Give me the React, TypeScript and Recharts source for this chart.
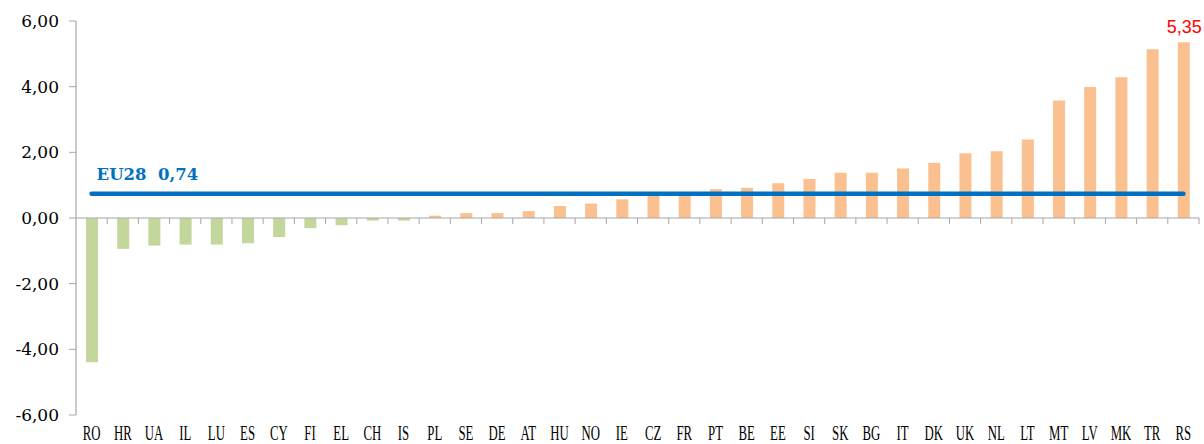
import React from 'react';
import { ComposedChart, Bar, Line, XAxis, YAxis, Cell, ReferenceLine, LabelList } from 'recharts';

const countries = ['RO','HR','UA','IL','LU','ES','CY','FI','EL','CH','IS','PL','SE','DE','AT','HU','NO','IE','CZ','FR','PT','BE','EE','SI','SK','BG','IT','DK','UK','NL','LT','MT','LV','MK','TR','RS'];
const values = [-4.39,-0.94,-0.84,-0.81,-0.81,-0.77,-0.58,-0.31,-0.22,-0.08,-0.08,0.07,0.15,0.15,0.21,0.37,0.44,0.57,0.72,0.75,0.88,0.92,1.06,1.19,1.38,1.38,1.51,1.68,1.97,2.03,2.39,3.58,3.99,4.29,5.14,5.35];
const EU28 = 0.74;
const yTicks = [-6, -4, -2, 0, 2, 4, 6];

const data = countries.map((c, i) => ({ name: c, value: values[i], eu: EU28 }));

const fmt = (v: number) => v.toFixed(2).replace('.', ',');

const GRAY = '#A6A6A6';
const GREEN = '#C3D69B';
const ORANGE = '#FAC090';
const BLUE = '#0070C0';

const XTick = (props: any) => {
  const { x, y, payload } = props;
  return (
    <g transform={`translate(${x},${y + 25})`}>
      <text
        transform="scale(0.64,1)"
        textAnchor="middle"
        fontFamily="'Liberation Serif', serif"
        fontSize={20}
        fill="#000"
      >
        {payload.value}
      </text>
    </g>
  );
};

const ZeroLine = (props: any) => {
  const { x1, y1, x2 } = props;
  const n = countries.length;
  const step = (x2 - x1) / n;
  const ticks = [];
  for (let i = 1; i <= n; i++) {
    const tx = x1 + step * i;
    ticks.push(<line key={i} x1={tx} x2={tx} y1={y1} y2={y1 + 6} stroke={GRAY} strokeWidth={1} />);
  }
  return (
    <g>
      <line x1={x1} x2={x2} y1={y1} y2={y1} stroke={GRAY} strokeWidth={1.2} />
      {ticks}
    </g>
  );
};

const LastLabel = (props: any) => {
  const { x, y, width, index, value } = props;
  if (index !== countries.length - 1) return null;
  return (
    <text x={x + width / 2 + 18} y={y - 9} textAnchor="end" fill="#FF0000" fontFamily="'Liberation Sans', sans-serif" fontSize={18}>
      {fmt(value)}
    </text>
  );
};

const EuLabel = (props: any) => {
  const { x, y, index } = props;
  if (index !== 0) return null;
  return (
    <text x={x + 5} y={y - 14} fill={BLUE} fontFamily="'DejaVu Serif', serif" fontWeight="bold" fontSize={16.5} style={{ whiteSpace: 'pre' }}>
      {`EU28  ${fmt(EU28)}`}
    </text>
  );
};

export default function App() {
  return (
    <div style={{ width: 1196, height: 436, padding: '8px 0 0 8px' }}>
      <style>{`body{margin:0}`}</style>
      <ComposedChart
        width={1196}
        height={436}
        data={data}
        margin={{ top: 13, right: 5, bottom: 0, left: 0 }}
        barCategoryGap={0}
      >
        <XAxis
          dataKey="name"
          height={29}
          axisLine={false}
          tickLine={false}
          tickSize={0}
          tickMargin={0}
          interval={0}
          tick={<XTick />}
        />
        <YAxis
          width={68}
          domain={[-6, 6]}
          ticks={yTicks}
          tickFormatter={fmt}
          axisLine={{ stroke: GRAY, strokeWidth: 1.2 }}
          tickLine={{ stroke: GRAY }}
          tickSize={7}
          tickMargin={10}
          tick={{ fill: '#000', fontFamily: "'DejaVu Serif', serif", fontSize: 17 }}
          allowDataOverflow
        />
        <ReferenceLine y={0} shape={<ZeroLine />} ifOverflow="extendDomain" />
        <Bar dataKey="value" barSize={12} isAnimationActive={false}>
          {data.map((d, i) => (
            <Cell key={i} fill={d.value < 0 ? GREEN : ORANGE} />
          ))}
          <LabelList dataKey="value" content={<LastLabel />} />
        </Bar>
        <Line
          dataKey="eu"
          stroke={BLUE}
          strokeWidth={4.5}
          strokeLinecap="round"
          dot={false}
          activeDot={false}
          isAnimationActive={false}
        >
          <LabelList dataKey="eu" content={<EuLabel />} />
        </Line>
      </ComposedChart>
    </div>
  );
}
